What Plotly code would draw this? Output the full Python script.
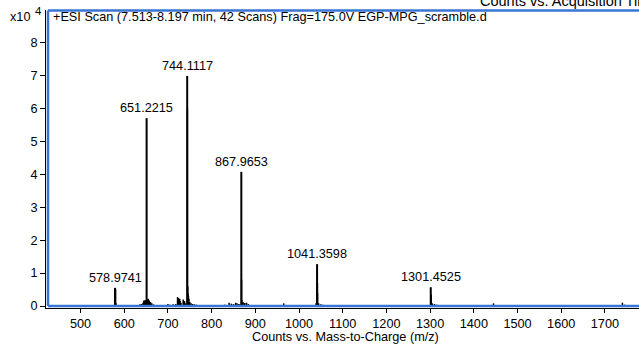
import plotly.graph_objects as go

# ---- data (intensity in units of 10^4 counts) ----
label_mz = [578.9741, 651.2215, 744.1117, 867.9653, 1041.3598, 1301.4525]
label_int = [0.55, 5.70, 6.98, 4.07, 1.27, 0.57]

minor_mz = [537.5, 565, 579.6, 580.2, 581.0, 612, 620, 625, 630, 636, 640, 643, 645, 646.5, 648, 650,
            652.2, 653, 655, 656, 657, 660, 663, 667, 672, 680, 690, 700, 705, 712, 718, 722, 723, 724,
            727, 728, 730, 735, 736, 738, 741, 744.6, 745.5, 746, 747, 748, 750, 753, 756, 760, 765, 772,
            780, 790, 800, 810, 820, 830, 840, 845, 850, 855, 858, 862, 865, 868.5, 869, 872, 875, 876,
            880, 884, 890, 965, 1020, 1030, 1035, 1039, 1041.7, 1042.0, 1042.4, 1045, 1050, 1055, 1060,
            1065, 1289, 1302.4, 1305, 1310, 1315, 1320, 1445, 1458, 1740, 1745]
minor_int = [0.03, 0.02, 0.50, 0.52, 0.08, 0.02, 0.03, 0.03, 0.02, 0.05, 0.06, 0.10, 0.17, 0.14, 0.18, 0.12,
             0.20, 0.15, 0.22, 0.18, 0.16, 0.12, 0.08, 0.05, 0.03, 0.02, 0.02, 0.06, 0.04, 0.05, 0.06, 0.27, 0.20,
             0.24, 0.22, 0.15, 0.10, 0.20, 0.12, 0.15, 0.08, 6.0, 0.6, 0.38, 0.30, 0.22, 0.12, 0.08, 0.06, 0.05,
             0.04, 0.03, 0.02, 0.03, 0.02, 0.03, 0.03, 0.04, 0.10, 0.07, 0.06, 0.10, 0.08, 0.06, 0.05, 0.8,
             0.18, 0.12, 0.08, 0.09, 0.10, 0.06, 0.02, 0.08, 0.03, 0.02, 0.03, 0.08, 1.10, 0.70, 0.40, 0.08,
             0.05, 0.04, 0.03, 0.02, 0.03, 0.35, 0.08, 0.06, 0.04, 0.03, 0.08, 0.03, 0.10, 0.04]

x_ticks = list(range(500, 1800, 100))
y_ticks = list(range(0, 9))

header = "+ESI Scan (7.513-8.197 min, 42 Scans) Frag=175.0V EGP-MPG_scramble.d"
x_title = "Counts vs. Mass-to-Charge (m/z)"
top_right = "Counts vs. Acquisition Time (min)"

FONT = "Liberation Sans, Arial, sans-serif"
FS = 12.7
BLUE = "#3a75d6"

W, H = 639, 348
L, R, T, B = 46, 0, 10, 40
PW, PH = W - L - R, H - T - B


def px(x):
    return (x - L) / PW


def py(y):
    return 1 - (y - T) / PH


def sticks(mz, inten):
    xs, ys = [], []
    for m, v in zip(mz, inten):
        xs += [m, m, None]
        ys += [0, v, None]
    return xs, ys


fig = go.Figure()
xs, ys = sticks(minor_mz, minor_int)
fig.add_trace(go.Scatter(x=xs, y=ys, mode="lines", line=dict(color="black", width=1.5),
                         hoverinfo="skip", showlegend=False))
xs, ys = sticks(label_mz, label_int)
fig.add_trace(go.Scatter(x=xs, y=ys, mode="lines", line=dict(color="black", width=2),
                         hoverinfo="skip", showlegend=False))

annotations = []
for m, v in zip(label_mz, label_int):
    annotations.append(dict(x=m, y=v, xref="x", yref="y", text=f"{m:.4f}", showarrow=False,
                            yanchor="bottom", xanchor="center", yshift=1,
                            font=dict(family=FONT, size=FS, color="black")))
annotations += [
    dict(x=px(51), y=py(17), xref="paper", yref="paper", text=header, showarrow=False,
         xanchor="left", yanchor="middle", font=dict(family=FONT, size=FS, color="black")),
    dict(x=px(32), y=py(17), xref="paper", yref="paper", text="x10", showarrow=False,
         xanchor="right", yanchor="middle", font=dict(family=FONT, size=FS, color="black")),
    dict(x=px(33), y=py(11), xref="paper", yref="paper", text="4", showarrow=False,
         xanchor="left", yanchor="middle", font=dict(family=FONT, size=11.5, color="black")),
    dict(x=px(345), y=py(337), xref="paper", yref="paper", text=x_title, showarrow=False,
         xanchor="center", yanchor="middle", font=dict(family=FONT, size=FS, color="black")),
    dict(x=px(478), y=1, xref="paper", yref="paper", text=top_right, showarrow=False,
         xanchor="left", yanchor="bottom", yshift=-1, font=dict(family=FONT, size=14.5, color="black")),
]

shapes = [
    dict(type="line", xref="paper", yref="y", x0=px(48), x1=1, y0=0, y1=0,
         line=dict(color=BLUE, width=2.5)),
    dict(type="line", xref="paper", yref="paper", x0=px(48), x1=1, y0=py(10.5), y1=py(10.5),
         line=dict(color=BLUE, width=2.5)),
    dict(type="line", xref="paper", yref="paper", x0=px(48), x1=px(48), y0=py(306), y1=py(10.5),
         line=dict(color=BLUE, width=2.5)),
]

fig.update_layout(
    width=W, height=H, margin=dict(l=L, r=R, t=T, b=B, pad=0),
    plot_bgcolor="white", paper_bgcolor="white",
    annotations=annotations, shapes=shapes, showlegend=False,
    font=dict(family=FONT, size=FS, color="black"),
    xaxis=dict(range=[421, 1778], tickvals=x_ticks, ticks="outside", ticklen=4, tickcolor="black",
               showline=True, linecolor="black", linewidth=1, showgrid=False, zeroline=False,
               tickfont=dict(family=FONT, size=FS, color="black")),
    yaxis=dict(range=[-0.0607, 8.98], tickvals=y_ticks, ticks="outside", ticklen=5, tickcolor="black",
               showline=True, linecolor="black", linewidth=1, showgrid=False, zeroline=False,
               tickfont=dict(family=FONT, size=FS, color="black")),
)

fig.write_html("out.html")
